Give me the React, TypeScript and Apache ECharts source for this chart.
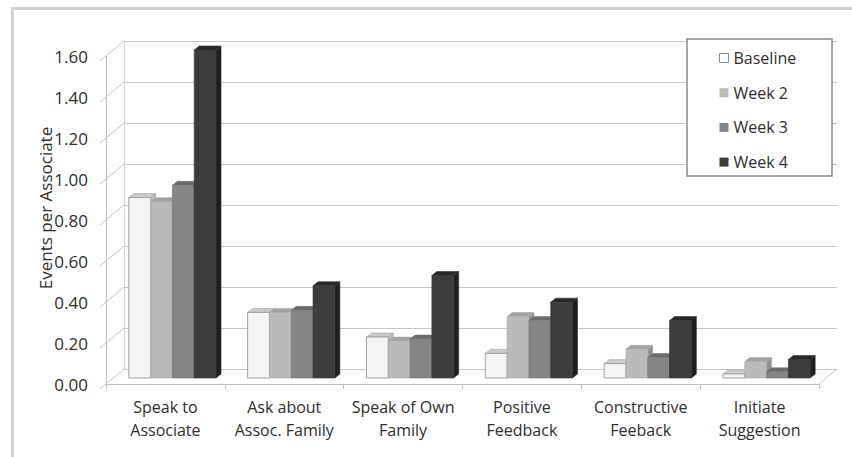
import React, { useEffect, useRef } from "react";
import * as echarts from "echarts";

const categories = [
  "Speak to\nAssociate",
  "Ask about\nAssoc. Family",
  "Speak of Own\nFamily",
  "Positive\nFeedback",
  "Constructive\nFeeback",
  "Initiate\nSuggestion",
];
const seriesNames = ["Baseline", "Week 2", "Week 3", "Week 4"];
const baseline = [0.88, 0.32, 0.2, 0.12, 0.07, 0.02];
const week2 = [0.86, 0.32, 0.18, 0.3, 0.14, 0.08];
const week3 = [0.94, 0.33, 0.19, 0.28, 0.1, 0.03];
const week4 = [1.6, 0.45, 0.5, 0.37, 0.28, 0.09];
const tickValues = [0, 0.2, 0.4, 0.6, 0.8, 1.0, 1.2, 1.4, 1.6];

const FONT = "Open Sans";
const TEXT = "#2e2e2e";
// 3D depth offsets (pixels)
const DX = 18;
const DY = -15;
const BDX = 5;
const BDY = -4;

const faceColors = [
  { front: "#f4f4f4", top: "#cacaca", side: "#bdbdbd", stroke: "#a3a3a3" },
  { front: "#bababa", top: "#a2a2a2", side: "#8e8e8e", stroke: "#a8a8a8" },
  { front: "#858585", top: "#6b6b6b", side: "#5a5a5a", stroke: "#777777" },
  { front: "#3c3c3c", top: "#272727", side: "#1e1e1e", stroke: "#333333" },
];

export default function App() {
  const ref = useRef<HTMLDivElement>(null);
  useEffect(() => {
    if (!ref.current) return;
    const chart = echarts.init(ref.current, null, { renderer: "svg" });
    const all = [baseline, week2, week3, week4];

    const barSeries = all.map((vals, k) => ({
      type: "custom",
      name: seriesNames[k],
      xAxisIndex: 1,
      yAxisIndex: 1,
      z: 3,
      itemStyle: { color: faceColors[k].front },
      data: vals.map((v, i) => [i, v]),
      renderItem: (params: any, api: any) => {
        const i = api.value(0);
        const v = api.value(1);
        const catW = api.size([1, 0])[0];
        const c = api.coord([i, v]);
        const b = api.coord([i, 0]);
        const groupW = catW * 0.734;
        const bw = groupW / 4;
        const x0 = c[0] - groupW / 2 + k * bw;
        const top = c[1];
        const base = b[1];
        const fc = faceColors[k];
        return {
          type: "group",
          children: [
            {
              type: "polygon",
              shape: {
                points: [
                  [x0 + bw, top],
                  [x0 + bw + BDX, top + BDY],
                  [x0 + bw + BDX, base + BDY],
                  [x0 + bw, base],
                ],
              },
              style: { fill: fc.side, stroke: fc.stroke, lineWidth: 0.6 },
            },
            {
              type: "polygon",
              shape: {
                points: [
                  [x0, top],
                  [x0 + bw, top],
                  [x0 + bw + BDX, top + BDY],
                  [x0 + BDX, top + BDY],
                ],
              },
              style: { fill: fc.top, stroke: fc.stroke, lineWidth: 0.6 },
            },
            {
              type: "rect",
              shape: { x: x0, y: top, width: bw, height: base - top },
              style: { fill: fc.front, stroke: fc.stroke, lineWidth: k === 0 ? 1 : 0.6 },
            },
          ],
        };
      },
    }));

    const diagSeries = {
      type: "custom",
      xAxisIndex: 0,
      yAxisIndex: 0,
      silent: true,
      z: 1,
      data: tickValues.map((v) => [0, v]),
      renderItem: (params: any, api: any) => {
        const v = api.value(1);
        const cs = params.coordSys;
        const y = api.coord([0, v])[1];
        const xl = cs.x;
        const children: any[] = [
          {
            type: "line",
            shape: { x1: xl - 6, y1: y + 5, x2: xl + DX, y2: y + DY },
            style: { stroke: "#c4c4c4", lineWidth: 1 },
          },
        ];
        if (v === 0) {
          const xr = cs.x + cs.width;
          children.push({
            type: "line",
            shape: { x1: xr, y1: y, x2: xr + DX, y2: y + DY },
            style: { stroke: "#c4c4c4", lineWidth: 1 },
          });
        }
        return { type: "group", children };
      },
    };

    const gridW = 713;
    const gridH = 328;
    const option: any = {
      animation: false,
      backgroundColor: "#ffffff",
      textStyle: { fontFamily: FONT },
      grid: [
        { left: 106, top: 56, width: gridW, height: gridH },
        { left: 113, top: 50, width: gridW, height: gridH },
        { left: 106 + DX, top: 56 + DY, width: gridW, height: gridH },
      ],
      xAxis: [
        {
          type: "category",
          gridIndex: 0,
          data: categories,
          boundaryGap: true,
          axisLine: { show: true, lineStyle: { color: "#bdbdbd", width: 1 } },
          axisTick: { show: true, interval: 0, length: 5, lineStyle: { color: "#bdbdbd" } },
          axisLabel: {
            interval: 0,
            color: TEXT,
            fontFamily: FONT,
            fontSize: 16,
            lineHeight: 23,
            margin: 11,
          },
          splitLine: { show: false },
        },
        {
          type: "category",
          gridIndex: 1,
          data: categories,
          show: false,
        },
        {
          type: "category",
          gridIndex: 2,
          data: categories,
          show: false,
        },
      ],
      yAxis: [
        {
          type: "value",
          gridIndex: 0,
          min: 0,
          max: 1.6,
          interval: 0.2,
          axisLine: { show: true, lineStyle: { color: "#bdbdbd", width: 1 } },
          axisTick: { show: false },
          splitLine: { show: false },
          axisLabel: {
            color: TEXT,
            fontFamily: FONT,
            fontSize: 17,
            margin: 18,
            formatter: (v: number) => v.toFixed(2),
          },
        },
        {
          type: "value",
          gridIndex: 1,
          min: 0,
          max: 1.6,
          interval: 0.2,
          show: false,
        },
        {
          type: "value",
          gridIndex: 2,
          min: 0,
          max: 1.6,
          interval: 0.2,
          axisLine: { show: true, lineStyle: { color: "#d0d0d0", width: 1 } },
          axisTick: { show: false },
          axisLabel: { show: false },
          splitLine: { show: true, lineStyle: { color: "#c6c6c6", width: 1 } },
        },
      ],
      legend: {
        orient: "vertical",
        left: 719,
        top: 50,
        padding: 0,
        z: 10,
        itemWidth: 9,
        itemHeight: 9,
        itemGap: 18.7,
        icon: "rect",
        textStyle: { color: TEXT, fontFamily: FONT, fontSize: 16, lineHeight: 16 },
        data: seriesNames.map((n, k) => ({
          name: n,
          itemStyle:
            k === 0
              ? { color: "#ffffff", borderColor: "#8a8a8a", borderWidth: 1 }
              : { color: faceColors[k].front },
        })),
      },
      graphic: [
        {
          type: "rect",
          z: 0,
          silent: true,
          shape: { x: 12.5, y: 8.5, width: 900, height: 500 },
          style: { fill: "none", stroke: "#d2d2d2", lineWidth: 3 },
        },
        {
          type: "rect",
          z: 5,
          silent: true,
          shape: { x: 687, y: 39, width: 145, height: 137 },
          style: { fill: "#ffffff", stroke: "#8a8a8a", lineWidth: 1.5 },
        },
        {
          type: "text",
          z: 5,
          x: 45,
          y: 208,
          rotation: Math.PI / 2,
          style: {
            text: "Events per Associate",
            fill: TEXT,
            font: `17px "${FONT}"`,
            textAlign: "center",
            textVerticalAlign: "middle",
          },
        },
      ],
      series: [diagSeries, ...barSeries],
    };
    chart.setOption(option);
    return () => chart.dispose();
  }, []);
  return (
    <div
      ref={ref}
      style={{ position: "fixed", left: 0, top: 0, width: 852, height: 457 }}
    />
  );
}
